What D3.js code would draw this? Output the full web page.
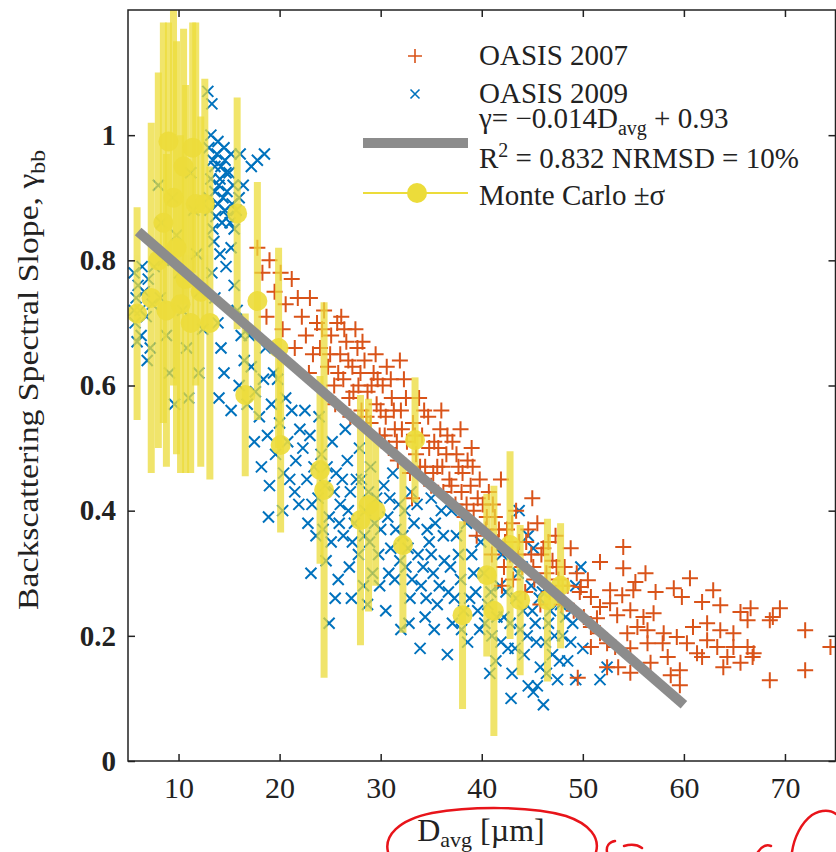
<!DOCTYPE html>
<html>
<head>
<meta charset="utf-8">
<script src="https://cdn.jsdelivr.net/npm/d3@7"></script>
<style>
  body { margin: 0; background: #fff; }
  svg text { font-family: "Liberation Serif", "Times New Roman", serif; fill: #222; }
</style>
</head>
<body>
<svg id="chart"></svg>
<script>
// OASIS 2009 samples [D_avg, gamma]
const oasis2009 = [
  [5.6,0.78],[5.8,0.74],[5.7,0.70],[6.0,0.76],[6.2,0.72],[5.9,0.67],[6.4,0.79],[6.6,0.75],
  [6.3,0.68],[6.8,0.71],[7.0,0.77],[7.2,0.66],[7.4,0.73],[6.9,0.64],[5.6,0.72],[7.6,0.79],
  [8.0,0.92],[8.3,0.86],[8.5,0.80],[8.2,0.74],[8.8,0.68],[9.1,0.62],[9.4,0.90],[9.8,0.84],
  [10.1,0.78],[10.4,0.72],[10.8,0.66],[11.2,0.94],[11.5,0.88],[11.8,0.81],[12.1,0.75],[12.4,0.69],
  [12.0,0.62],[11.0,0.58],[9.6,0.57],
  [12.9,1.07],[13.3,1.05],[13.0,0.98],[13.4,0.96],[13.8,0.97],[14.2,0.95],[14.6,0.96],[15.0,0.94],
  [13.2,0.93],[13.6,0.91],[14.0,0.92],[14.4,0.90],[14.8,0.91],[15.3,0.89],[13.1,0.88],[13.7,0.87],
  [14.3,0.86],[14.9,0.87],[15.5,0.85],[16.1,0.97],[17.2,0.95],[17.8,0.96],[18.5,0.97],[16.4,0.92],
  [13.5,0.83],[14.1,0.81],[14.7,0.79],[15.2,0.82],
  [13.2,1.00],[13.9,0.99],[14.5,0.98],[15.2,0.97],[13.6,0.95],[14.1,0.93],[14.7,0.94],[15.4,0.92],
  [13.0,0.90],[13.9,0.89],[14.6,0.88],[15.1,0.86],[15.7,0.88],[13.4,0.85],[16.0,0.90],
  [13.3,0.78],[13.6,0.74],[13.9,0.70],[14.2,0.66],[14.5,0.62],[14.0,0.58],[15.5,0.76],[15.8,0.72],
  [16.2,0.68],[16.5,0.64],[16.0,0.60],[15.2,0.56],[16.8,0.57],
  [17.2,0.63],[17.6,0.59],[18.0,0.55],[18.4,0.61],[18.8,0.52],[19.2,0.57],[19.6,0.49],[20.0,0.54],
  [20.4,0.46],[20.8,0.51],[21.2,0.56],[21.6,0.48],[22.0,0.53],[20.3,0.40],[21.5,0.43],[18.6,0.66],
  [19.8,0.61],[17.5,0.51],[18.2,0.47],[19.0,0.44],[19.4,0.62],[20.6,0.58],[21.0,0.45],[21.9,0.41],
  [17.0,0.68],[18.9,0.39],
  [22.3,0.50],[22.7,0.45],[23.0,0.52],[23.4,0.47],[23.8,0.42],[24.1,0.49],[24.5,0.44],[24.9,0.39],
  [25.2,0.51],[25.6,0.46],[26.0,0.41],[26.3,0.36],[26.7,0.48],[27.0,0.43],[27.4,0.38],[27.8,0.33],
  [28.1,0.45],[28.5,0.40],[28.9,0.35],[29.2,0.30],[29.6,0.42],[30.0,0.37],[24.6,0.32],[25.8,0.29],
  [24.9,0.22],[23.6,0.36],[26.5,0.53],[27.9,0.50],[29.0,0.47],[22.8,0.38],[25.1,0.35],[28.3,0.28],
  [27.1,0.26],[22.5,0.56],[23.2,0.41],[23.9,0.55],[24.3,0.37],[24.7,0.47],[25.4,0.43],[25.9,0.38],
  [26.2,0.45],[26.8,0.40],[27.2,0.35],[27.6,0.45],[28.4,0.36],[28.8,0.43],[29.4,0.38],[29.8,0.33],
  [25.5,0.26],[26.9,0.31],[28.7,0.25],[23.1,0.30],[29.9,0.28],
  [30.3,0.44],[30.7,0.39],[31.0,0.34],[31.4,0.29],[31.8,0.41],[32.2,0.36],[32.5,0.31],[32.9,0.26],
  [33.3,0.38],[33.7,0.33],[34.0,0.28],[34.4,0.23],[34.8,0.35],[35.2,0.30],[35.6,0.25],[36.0,0.40],
  [36.3,0.32],[36.7,0.27],[37.1,0.22],[37.5,0.36],[37.9,0.29],[38.2,0.24],[38.6,0.19],[39.0,0.33],
  [39.4,0.27],[39.8,0.21],[31.2,0.46],[33.0,0.43],[35.0,0.42],[30.5,0.24],[32.0,0.21],[33.9,0.18],
  [36.6,0.17],[38.5,0.38],[34.6,0.37],[30.9,0.42],[31.5,0.37],[31.9,0.32],[32.4,0.40],[32.7,0.34],
  [33.1,0.29],[33.6,0.41],[34.2,0.31],[34.5,0.26],[35.0,0.33],[35.4,0.38],[35.8,0.28],[36.2,0.36],
  [36.9,0.31],[37.3,0.26],[37.7,0.33],[38.0,0.21],[38.8,0.26],[39.2,0.30],[39.6,0.24],[30.8,0.30],
  [32.8,0.22],[35.3,0.21],[37.0,0.40],[39.9,0.35],
  [40.2,0.30],[40.6,0.25],[41.0,0.20],[41.4,0.16],[41.8,0.28],[42.2,0.23],[42.6,0.18],[43.0,0.14],
  [43.4,0.26],[43.8,0.21],[44.2,0.17],[44.6,0.12],[45.0,0.24],[45.4,0.19],[45.8,0.15],[46.1,0.09],
  [46.6,0.22],[47.0,0.17],[47.5,0.13],[48.0,0.20],[48.5,0.16],[49.3,0.13],[45.1,0.11],[42.0,0.33],
  [44.0,0.31],[40.8,0.14],[42.9,0.10],[46.0,0.27],[47.8,0.25],[49.0,0.22],[50.0,0.18],
  [43.7,0.40],[44.6,0.36],[45.1,0.34],[49.8,0.31],[49.3,0.28],[51.7,0.13],[45.5,0.12],[52.4,0.15],
  [40.3,0.22],[40.9,0.27],[41.5,0.23],[41.9,0.19],[42.4,0.27],[42.8,0.22],[43.3,0.18],[43.6,0.30],
  [44.1,0.24],[44.5,0.20],[44.9,0.28],[45.3,0.22],[45.7,0.26],[46.3,0.19],[46.8,0.24],[47.2,0.20],
  [47.7,0.16],[48.3,0.23],[48.8,0.19],[46.4,0.14]
];

// OASIS 2007 samples [D_avg, gamma]
const oasis2007 = [
  [17.8,0.82],[18.3,0.78],[19.0,0.80],[19.5,0.75],[18.7,0.71],[20.1,0.78],[20.6,0.73],[21.2,0.77],
  [21.8,0.74],[20.3,0.69],
  [22.2,0.71],[22.6,0.68],[23.0,0.74],[23.3,0.65],[23.7,0.70],[24.0,0.66],[24.4,0.72],[24.8,0.63],
  [21.5,0.66],[22.9,0.62],[25.1,0.68],[25.4,0.60],
  [25.7,0.70],[26.0,0.65],[26.3,0.61],[26.6,0.67],[26.9,0.58],[27.2,0.63],[27.5,0.69],[27.8,0.60],
  [28.1,0.56],[28.4,0.64],[28.7,0.59],[29.0,0.54],[29.3,0.62],[29.6,0.57],[29.9,0.52],[26.1,0.71],
  [27.0,0.55],[28.2,0.67],[29.5,0.65],[25.5,0.57],
  [24.2,0.69],[25.0,0.65],[25.8,0.62],[26.4,0.69],[26.8,0.64],[27.3,0.59],[27.7,0.66],[28.0,0.62],
  [28.6,0.55],[29.1,0.60],[29.7,0.61],[30.0,0.56],[30.4,0.52],[31.0,0.61],[31.3,0.56],[31.6,0.51],
  [32.1,0.53],[32.5,0.58],
  [30.2,0.60],[30.5,0.55],[30.8,0.50],[31.1,0.58],[31.4,0.53],[31.7,0.48],[32.0,0.56],[32.3,0.61],
  [32.6,0.51],[32.9,0.46],[33.2,0.54],[33.5,0.49],[33.8,0.58],[34.1,0.52],[34.4,0.47],[34.7,0.55],
  [35.0,0.44],[30.6,0.63],[31.9,0.64],[33.1,0.42],
  [35.3,0.51],[35.6,0.47],[35.9,0.53],[36.2,0.43],[36.5,0.49],[36.8,0.45],[37.1,0.51],[37.4,0.41],
  [37.7,0.47],[38.0,0.43],[38.3,0.39],[38.6,0.48],[38.9,0.44],[39.2,0.40],[39.5,0.36],[39.8,0.45],
  [36.0,0.56],[37.9,0.53],[39.0,0.50],
  [33.4,0.52],[33.9,0.47],[34.3,0.56],[34.8,0.50],[35.2,0.46],[35.7,0.50],[36.1,0.47],[36.6,0.52],
  [37.0,0.44],[37.5,0.49],[38.1,0.46],[38.5,0.41],[39.1,0.47],[39.6,0.42],
  [40.1,0.41],[40.4,0.37],[40.7,0.43],[41.0,0.33],[41.3,0.39],[41.6,0.35],[41.9,0.45],[42.2,0.31],
  [42.5,0.37],[42.8,0.33],[43.1,0.29],[43.4,0.40],[43.7,0.35],[44.0,0.31],[44.3,0.27],[44.6,0.37],
  [44.9,0.33],[45.2,0.29],[45.5,0.38],[45.8,0.25],[46.1,0.34],[46.4,0.30],[46.7,0.27],[47.0,0.32],
  [47.3,0.36],[47.6,0.29],[47.9,0.25],[48.2,0.31],[48.5,0.28],[48.8,0.34],[49.1,0.24],[49.4,0.30],
  [49.7,0.27],[45.0,0.42],[42.0,0.28],
  [40.5,0.39],[41.1,0.41],[41.7,0.37],[42.3,0.35],[43.0,0.38],[43.6,0.33],[44.4,0.35],[45.1,0.31],
  [45.9,0.33],[46.6,0.35],[47.4,0.31],[48.0,0.28],
  [54.0,0.342],[51.7,0.318],[54.0,0.308],[56.2,0.300],[60.6,0.292],[55.2,0.286],[62.9,0.273],[59.0,0.276],
  [59.8,0.262],[57.2,0.270],[61.8,0.254],[63.6,0.249],[65.6,0.238],[66.6,0.244],[69.5,0.244],[68.5,0.225],
  [72.0,0.209],[74.5,0.182],[72.0,0.145],[68.5,0.129],[66.8,0.166],[65.6,0.157],[64.3,0.166],[63.3,0.182],
  [62.3,0.193],[61.3,0.172],[60.3,0.188],[59.6,0.145],[59.6,0.121],[58.7,0.137],[56.7,0.157],[59.3,0.198],
  [58.0,0.204],[56.4,0.209],[55.4,0.214],[54.4,0.204],[53.2,0.182],[54.7,0.141],[49.5,0.133],[53.5,0.150],
  [52.4,0.150],[57.0,0.236],[56.0,0.230],[54.7,0.241],[53.4,0.233],[52.7,0.252],[51.7,0.246],[50.8,0.262],
  [49.8,0.278],[50.5,0.289],[52.7,0.273],[53.9,0.265],[55.0,0.273],[51.4,0.228],[50.1,0.230],[50.8,0.214],
  [51.7,0.204],[52.4,0.188],[50.8,0.182],[54.7,0.180],[56.4,0.188],[57.9,0.188],[58.4,0.166],[62.3,0.220],
  [60.9,0.214],[63.6,0.209],[64.9,0.204],[66.3,0.182],[64.9,0.182],[63.9,0.150],[61.8,0.166],[66.3,0.225],
  [68.8,0.230],[66.9,0.172]
];

// Monte Carlo means and standard deviations
const mcD     = [5.9, 7.3, 8.0, 8.5, 8.8, 9.0, 9.5, 9.8, 10.2, 10.5, 10.7, 11.2, 11.4, 11.7, 12.2, 12.6, 13.1,
                 15.8, 16.6, 17.8, 19.9, 20.1, 24.0, 24.4, 28.0, 28.8, 29.5, 32.2, 33.4, 38.1, 40.5, 41.2,
                 42.8, 43.8, 46.5, 47.8];
const mcGamma = [0.715, 0.74, 0.80, 0.86, 0.72, 0.99, 0.90, 0.82, 0.73, 0.95, 0.77, 0.70, 0.98, 0.89, 0.75,
                 0.89, 0.70, 0.875, 0.585, 0.735, 0.66, 0.505, 0.465, 0.433, 0.385, 0.409, 0.40, 0.345, 0.513,
                 0.233, 0.297, 0.24, 0.345, 0.257, 0.257, 0.28];
const mcSigma = [0.17, 0.28, 0.30, 0.32, 0.25, 0.19, 0.30, 0.33, 0.27, 0.22, 0.31, 0.24, 0.20, 0.29, 0.28,
                 0.20, 0.25, 0.185, 0.13, 0.19, 0.16, 0.14, 0.15, 0.30, 0.20, 0.17, 0.12, 0.14, 0.10, 0.15,
                 0.13, 0.20, 0.15, 0.12, 0.13, 0.10];

// linear fit, gamma = -0.014 D + 0.93, drawn over 6..60 um
const fitD = [6, 60];
const fitGamma = [0.846, 0.09];

const xTicks = [10, 20, 30, 40, 50, 60, 70];
const yTicks = [0, 0.2, 0.4, 0.6, 0.8, 1];

const width = 836;
const height = 852;
const plot = {left: 128, right: 835.5, top: 10, bottom: 761};

const orange = "#d95319";
const blue = "#0072bd";
const yellow = "#ecdc3a";
const gray = "#8c8c8c";

const svg = d3.select("#chart")
    .attr("width", width)
    .attr("height", height);

const x = d3.scaleLinear().domain([5, 75]).range([plot.left, plot.right]);
const y = d3.scaleLinear().domain([0, 1.2]).range([plot.bottom, plot.top]);

svg.append("defs").append("clipPath")
    .attr("id", "plot-clip")
  .append("rect")
    .attr("x", plot.left)
    .attr("y", plot.top)
    .attr("width", plot.right - plot.left)
    .attr("height", plot.bottom - plot.top);

const plusPath = s => `M${-s},0H${s}M0,${-s}V${s}`;
const timesPath = s => `M${-s},${-s}L${s},${s}M${-s},${s}L${s},${-s}`;

const body = svg.append("g").attr("clip-path", "url(#plot-clip)");

// blue crosses first, orange plus on top of them
body.append("g").selectAll("path")
    .data(oasis2009)
  .enter().append("path")
    .attr("transform", d => `translate(${x(d[0])},${y(d[1])})`)
    .attr("d", timesPath(5.5))
    .attr("fill", "none")
    .attr("stroke", blue)
    .attr("stroke-width", 2);

body.append("g").selectAll("path")
    .data(oasis2007)
  .enter().append("path")
    .attr("transform", d => `translate(${x(d[0])},${y(d[1])})`)
    .attr("d", plusPath(8))
    .attr("fill", "none")
    .attr("stroke", orange)
    .attr("stroke-width", 2);

// Monte Carlo error bars and means
const mc = mcD.map((d, i) => ({d: d, g: mcGamma[i], s: mcSigma[i]}));

body.append("g").selectAll("line")
    .data(mc)
  .enter().append("line")
    .attr("x1", d => x(d.d))
    .attr("x2", d => x(d.d))
    .attr("y1", d => y(d.g - d.s))
    .attr("y2", d => y(d.g + d.s))
    .attr("stroke", yellow)
    .attr("stroke-width", 7)
    .attr("opacity", 0.75);

body.append("g").selectAll("circle")
    .data(mc)
  .enter().append("circle")
    .attr("cx", d => x(d.d))
    .attr("cy", d => y(d.g))
    .attr("r", 10)
    .attr("fill", yellow)
    .attr("opacity", 0.9);

// fit line
body.append("line")
    .attr("x1", x(fitD[0]))
    .attr("y1", y(fitGamma[0]))
    .attr("x2", x(fitD[1]))
    .attr("y2", y(fitGamma[1]))
    .attr("stroke", gray)
    .attr("stroke-width", 10);

// axes, ticks point inward
const xAxis = svg.append("g")
    .attr("transform", `translate(0,${plot.bottom})`)
    .call(d3.axisBottom(x).tickValues(xTicks).tickSize(-7).tickPadding(16));

const yAxis = svg.append("g")
    .attr("transform", `translate(${plot.left},0)`)
    .call(d3.axisLeft(y).tickValues(yTicks).tickSize(-7).tickPadding(12)
      .tickFormat(d => d === 0 || d === 1 ? d : d3.format(".1f")(d)));

svg.append("g")
    .attr("transform", `translate(0,${plot.top})`)
    .call(d3.axisTop(x).tickValues(xTicks).tickSize(-7).tickFormat(""));

svg.append("g")
    .attr("transform", `translate(${plot.right},0)`)
    .call(d3.axisRight(y).tickValues(yTicks).tickSize(-7).tickFormat(""));

svg.selectAll(".domain").remove();
svg.selectAll(".tick line").attr("stroke", "#222").attr("stroke-width", 1.5);

xAxis.selectAll("text")
    .attr("font-family", null)
    .attr("font-size", 30);

yAxis.selectAll("text")
    .attr("font-family", null)
    .attr("font-size", 29)
    .attr("font-weight", "bold")
    .attr("fill", "#333");

svg.append("rect")
    .attr("x", plot.left)
    .attr("y", plot.top)
    .attr("width", plot.right - plot.left)
    .attr("height", plot.bottom - plot.top)
    .attr("fill", "none")
    .attr("stroke", "#222")
    .attr("stroke-width", 1.5);

// axis titles
const xTitle = svg.append("text")
    .attr("x", 481)
    .attr("y", 841)
    .attr("text-anchor", "middle")
    .attr("font-size", 32);
xTitle.append("tspan").text("D");
xTitle.append("tspan").attr("font-size", 22).attr("dy", 6).text("avg");
xTitle.append("tspan").attr("dy", -6).text(" [\u00b5m]");

const yTitle = svg.append("text")
    .attr("transform", "translate(38,380) rotate(-90)")
    .attr("text-anchor", "middle")
    .attr("font-size", 30)
    .attr("textLength", 460)
    .attr("lengthAdjust", "spacingAndGlyphs");
yTitle.append("tspan").text("Backscattering Spectral Slope, \u03b3");
yTitle.append("tspan").attr("font-size", 21).attr("dy", 7).text("bb");

// legend
const legend = svg.append("g").attr("font-size", 29);

legend.append("path")
    .attr("transform", "translate(415,56)")
    .attr("d", plusPath(7))
    .attr("fill", "none")
    .attr("stroke", orange)
    .attr("stroke-width", 1.6);
legend.append("text").attr("x", 479).attr("y", 65).text("OASIS 2007");

legend.append("path")
    .attr("transform", "translate(415,94)")
    .attr("d", timesPath(4.5))
    .attr("fill", "none")
    .attr("stroke", blue)
    .attr("stroke-width", 1.6);
legend.append("text").attr("x", 479).attr("y", 103).text("OASIS 2009");

legend.append("line")
    .attr("x1", 363).attr("x2", 468)
    .attr("y1", 143).attr("y2", 143)
    .attr("stroke", gray)
    .attr("stroke-width", 10);

const fitText = legend.append("text").attr("x", 479).attr("y", 128);
fitText.append("tspan").text("\u03b3= \u22120.014D");
fitText.append("tspan").attr("font-size", 20).attr("dy", 7).text("avg");
fitText.append("tspan").attr("dy", -7).text(" + 0.93");

const statText = legend.append("text").attr("x", 479).attr("y", 168);
statText.append("tspan").text("R");
statText.append("tspan").attr("font-size", 20).attr("dy", -11).text("2");
statText.append("tspan").attr("dy", 11).text(" = 0.832 NRMSD = 10%");

legend.append("line")
    .attr("x1", 363).attr("x2", 468)
    .attr("y1", 193).attr("y2", 193)
    .attr("stroke", yellow)
    .attr("stroke-width", 2);
legend.append("circle")
    .attr("cx", 417).attr("cy", 193)
    .attr("r", 10)
    .attr("fill", yellow);
legend.append("text").attr("x", 479).attr("y", 205).text("Monte Carlo \u00b1\u03c3");

// red pen marks drawn over the figure
const pen = svg.append("g")
    .attr("fill", "none")
    .attr("stroke", "#e8141a")
    .attr("stroke-width", 2.5)
    .attr("stroke-linecap", "round");
pen.append("path").attr("d", "M388,852 C384,836 398,820 432,813 C472,806 532,806 566,816 C590,824 600,838 596,852");
pen.append("path").attr("d", "M607,852 C606,846 609,842 615,841 M624,846 C631,844 638,845 642,848");
pen.append("path").attr("d", "M758,852 C762,846 766,844 771,846");
pen.append("path").attr("d", "M792,852 C794,838 801,823 812,815 C822,809 831,810 836,814");
</script>
</body>
</html>
